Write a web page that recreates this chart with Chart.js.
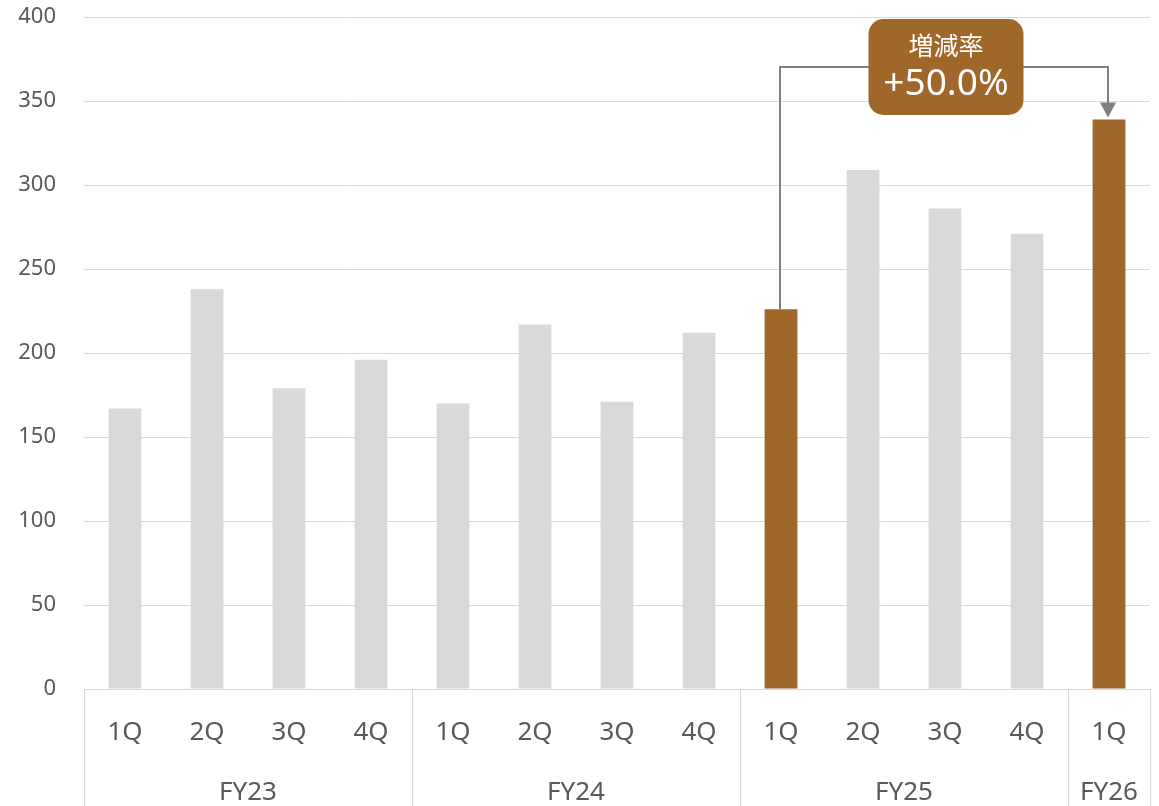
<!DOCTYPE html>
<html>
<head>
<meta charset="utf-8">
<script src="https://cdn.jsdelivr.net/npm/chart.js@4"></script>
<style>
    html, body { margin: 0; padding: 0; background: #fff; }
    #wrap { width: 1159px; height: 806px; }
</style>
</head>
<body>
<div id="wrap"><canvas id="sales_chart"></canvas></div>
<script>
'use strict'
const quarters = ['1Q', '2Q', '3Q', '4Q', '1Q', '2Q', '3Q', '4Q', '1Q', '2Q', '3Q', '4Q', '1Q'];
const fiscalYears = ['FY23', 'FY24', 'FY25', 'FY26'];
const yearSizes = [4, 4, 4, 1];
const values = [167, 238, 179, 196, 170, 217, 171, 212, 226, 309, 286, 271, 339];
const compareFrom = 8;
const compareTo = 12;
const changeTitle = '増減率';

const GREY = '#D9D9D9';
const BROWN = '#A0672B';
const TEXT = '#595959';
const FONT = '"Noto Sans", "Open Sans", "Noto Sans CJK JP", sans-serif';

let changePct = (values[compareTo] / values[compareFrom] - 1) * 100;
let changeText = (changePct >= 0 ? '+' : '') + changePct.toFixed(1) + '%';

let barColors = values.map(function (v, i) {
    return (i === compareFrom || i === compareTo) ? BROWN : GREY;
});

let groupAxisPlugin = {
    id: 'groupAxis',
    afterDraw: function (chart) {
        let ctx = chart.ctx;
        let xs = chart.scales.x;
        let ys = chart.scales.y;
        let step = (xs.right - xs.left) / quarters.length;
        let bottom = chart.height;
        ctx.save();
        // quarter labels
        ctx.fillStyle = TEXT;
        ctx.textAlign = 'center';
        ctx.textBaseline = 'middle';
        ctx.font = '26px ' + FONT;
        quarters.forEach(function (q, i) {
            ctx.fillText(q, xs.getPixelForValue(i), xs.top + 44);
        });
        // fiscal year labels and separators
        ctx.strokeStyle = GREY;
        ctx.lineWidth = 1;
        let start = 0;
        let edges = [0];
        fiscalYears.forEach(function (fy, k) {
            let end = start + yearSizes[k];
            let xa = xs.left + step * start;
            let xb = xs.left + step * end;
            ctx.fillText(fy, (xa + xb) / 2, xs.top + 104);
            edges.push(end);
            start = end;
        });
        edges.forEach(function (e) {
            let x = Math.round(xs.left + step * e) + 0.5;
            ctx.beginPath();
            ctx.moveTo(x, xs.top);
            ctx.lineTo(x, bottom);
            ctx.stroke();
        });

        // comparison connector
        let x0 = Math.round(xs.getPixelForValue(compareFrom)) - 1;
        let y0 = ys.getPixelForValue(values[compareFrom]);
        let x1 = Math.round(xs.getPixelForValue(compareTo)) - 1;
        let y1 = ys.getPixelForValue(values[compareTo]) - 2;
        let yl = Math.round(ys.getPixelForValue(370));
        ctx.strokeStyle = '#7F7F7F';
        ctx.lineWidth = 2;
        ctx.beginPath();
        ctx.moveTo(x0, y0);
        ctx.lineTo(x0, yl);
        ctx.lineTo(x1, yl);
        ctx.lineTo(x1, y1 - 13);
        ctx.stroke();
        ctx.fillStyle = '#7F7F7F';
        ctx.beginPath();
        ctx.moveTo(x1, y1);
        ctx.lineTo(x1 - 8, y1 - 15);
        ctx.lineTo(x1 + 8, y1 - 15);
        ctx.closePath();
        ctx.fill();

        // callout box
        let cx = (x0 + x1) / 2 + 2;
        let bw = 155, bh = 96;
        ctx.fillStyle = BROWN;
        ctx.beginPath();
        ctx.roundRect(cx - bw / 2, yl - bh / 2, bw, bh, 15);
        ctx.fill();
        ctx.fillStyle = '#FFFFFF';
        ctx.font = '25px ' + FONT;
        ctx.fillText(changeTitle, cx, yl - 19);
        ctx.font = '37px ' + FONT;
        ctx.fillText(changeText, cx, yl + 17);
        ctx.restore();
    },
};

let chart = new Chart('sales_chart', {
    type: 'bar',
    data: {
        labels: quarters,
        datasets: [
            {
                label: 'Sales',
                data: values,
                backgroundColor: barColors,
                categoryPercentage: 1,
                barPercentage: 0.4,
            },
        ],
    },
    options: {
        responsive: true,
        maintainAspectRatio: false,
        animation: false,
        layout: { padding: { top: 17, right: 9, left: 0, bottom: 0 } },
        plugins: {
            legend: { display: false },
            tooltip: { enabled: false },
        },
        scales: {
            x: {
                grid: { display: false, drawTicks: false },
                border: { display: true, color: GREY, width: 1 },
                ticks: { display: false },
                afterFit: function (scale) { scale.height = 117; },
            },
            y: {
                min: 0,
                max: 400,
                ticks: {
                    stepSize: 50,
                    color: TEXT,
                    padding: 28,
                    font: { size: 22, family: FONT },
                },
                grid: { color: GREY, lineWidth: 1, drawTicks: false },
                border: { display: false },
                afterFit: function (scale) {
                    scale.width = 84;
                    scale.paddingTop = 0;
                    scale.paddingBottom = 0;
                },
            },
        },
    },
    plugins: [groupAxisPlugin],
});
</script>
</body>
</html>
